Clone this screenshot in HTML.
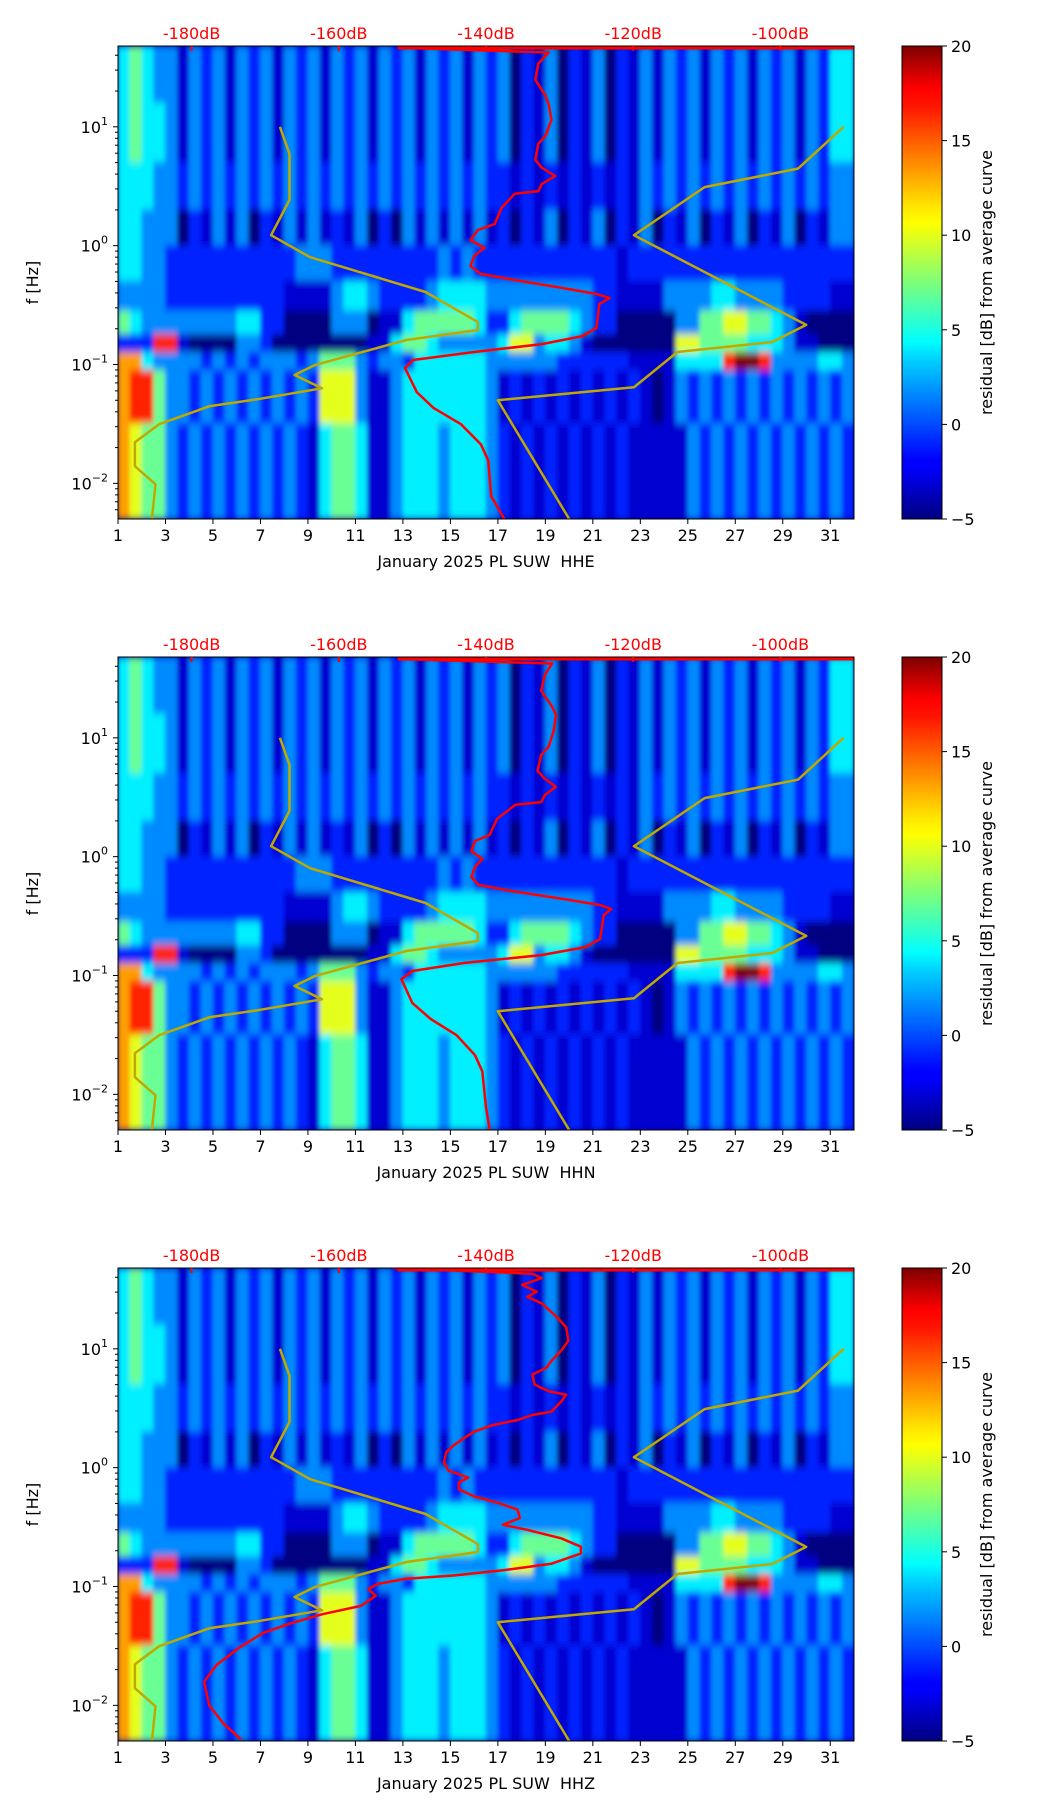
<!DOCTYPE html>
<html><head><meta charset="utf-8">
<style>
html,body{margin:0;padding:0;background:#fff;}
svg{display:block;font-family:"DejaVu Sans","Liberation Sans",sans-serif;}
</style></head>
<body>
<svg id="fig" width="1052" height="1806" viewBox="0 0 1052 1806" xmlns="http://www.w3.org/2000/svg">
<defs>
<linearGradient id="jet" x1="0" y1="1" x2="0" y2="0">
<stop offset="0" stop-color="#00007f"/><stop offset="0.11" stop-color="#0000ff"/><stop offset="0.125" stop-color="#0000ff"/>
<stop offset="0.34" stop-color="#00d4ff"/><stop offset="0.375" stop-color="#00ffff"/><stop offset="0.5" stop-color="#7dff7a"/>
<stop offset="0.625" stop-color="#ffff00"/><stop offset="0.66" stop-color="#ffe600"/><stop offset="0.875" stop-color="#ff1300"/>
<stop offset="0.91" stop-color="#ff0000"/><stop offset="1" stop-color="#7f0000"/>
</linearGradient>
<filter id="soft" x="-5%" y="-5%" width="110%" height="110%"><feGaussianBlur stdDeviation="2 4"/></filter>
</defs>
</svg>
<script>
// ---- data ----
const days = [1,3,5,7,9,11,13,15,17,19,21,23,25,27,29,31];
const yDecades = [-2,-1,0,1];
const dbTicks = [-180,-160,-140,-120,-100];
const cbTicks = [-5,0,5,10,15,20];
const channels = ["HHE","HHN","HHZ"];
const levelValues = [-5,-3,-1,1.5,4,7,10,13,16,20];
const bandEdges = [1.68,1.2,0.7,0.3,0.0,-0.3,-0.55,-0.75,-0.9,-1.05,-1.5,-2.3];
const gridRows = [
"45433132313231323132313231323132302130213021313231323132313244",
"45443132313231323132313231323132302130213021313231323132313244",
"44433232323232323232323232323232212121212121323232323232323233",
"44333021313021313121302031313131202130213021302130213021302133",
"44332222222222233322222222232322222222222212222222222222222222",
"33332222222222111134432222344443333333332211113333443333222211",
"54333333334422000033301145555542245555432200000335566554310000",
"22288100003320000000011455433333466344310000000665555444311000",
"77433332323233323555323324444443333332222221111444489983333443",
"78853323232323232666311344444443121212121212101323232323232323",
"76553232323232321455411344434443212121212121111132323232323232"
];
const redLogf1 = [1.66,1.625,1.531,1.396,1.261,1.194,1.059,0.924,0.857,0.722,0.655,0.587,0.520,0.459,0.436,0.318,0.183,0.132,0.048,-0.019,-0.087,-0.171,-0.238,-0.289,-0.356,-0.407,-0.441,-0.491,-0.693,-0.761,-0.828,-0.895,-0.962,-1.030,-1.232,-1.367,-1.502,-1.671,-1.806,-2.109,-2.30];
const redDb1 = [-149.0,-131.5,-132.9,-133.3,-131.9,-131.5,-131.1,-131.9,-132.9,-133.3,-132.4,-130.6,-132.4,-132.9,-136.1,-137.9,-138.8,-141.1,-142.1,-140.2,-141.6,-142.1,-140.7,-136.1,-129.6,-125.0,-123.2,-124.6,-125.0,-126.9,-132.4,-141.6,-149.9,-151.0,-149.4,-147.1,-143.4,-140.7,-139.7,-139.3,-137.5];
const redLogf2 = [1.66,1.625,1.531,1.396,1.261,1.194,1.059,0.924,0.857,0.722,0.655,0.587,0.520,0.459,0.436,0.318,0.183,0.132,0.048,-0.019,-0.087,-0.171,-0.238,-0.289,-0.356,-0.407,-0.441,-0.491,-0.693,-0.761,-0.828,-0.895,-0.962,-1.030,-1.232,-1.367,-1.502,-1.671,-1.806,-2.109,-2.30];
const redDb2 = [-150.0,-131.0,-132.0,-132.5,-131.0,-130.5,-130.8,-131.5,-132.5,-133.0,-132.0,-130.5,-132.0,-132.5,-136.0,-138.5,-139.5,-141.5,-142.0,-140.5,-141.5,-142.0,-141.0,-136.5,-129.5,-124.5,-123.0,-124.0,-124.5,-126.5,-132.5,-143.0,-150.0,-151.5,-150.0,-147.5,-144.0,-141.5,-140.5,-140.0,-139.5];
const redLogf3 = [1.68,1.632,1.595,1.538,1.481,1.438,1.381,1.325,1.268,1.182,1.069,0.983,0.898,0.841,0.784,0.699,0.642,0.614,0.557,0.472,0.443,0.401,0.358,0.301,0.244,0.187,0.131,0.045,-0.026,-0.083,-0.125,-0.182,-0.239,-0.296,-0.353,-0.424,-0.481,-0.523,-0.594,-0.665,-0.722,-0.808,-0.864,-0.907,-0.936,-0.978,-1.021,-1.078,-1.163,-1.234,-1.305,-1.390,-1.518,-1.660,-1.803,-2.002,-2.158,-2.286];
const redDb3 = [-152.7,-133.7,-132.4,-135.1,-133.1,-134.4,-132.4,-131.4,-130.4,-129.1,-128.8,-129.8,-131.1,-131.8,-133.7,-133.4,-131.4,-129.1,-129.8,-131.1,-133.7,-135.7,-139.1,-141.7,-143.1,-144.4,-145.4,-145.7,-145.1,-142.4,-143.7,-143.7,-141.7,-138.4,-135.7,-135.4,-137.7,-134.4,-129.8,-127.1,-127.1,-131.1,-137.7,-144.4,-151.0,-154.7,-156.0,-155.0,-157.0,-162.3,-166.3,-170.3,-173.6,-176.6,-178.3,-177.6,-175.6,-173.3];
const nlnmLogf = [1.0,0.773,0.385,0.088,-0.097,-0.39,-0.643,-0.71,-0.794,-1.003,-1.088,-1.2,-1.293,-1.35,-1.502,-1.654,-1.856,-2.008,-2.30];
const nlnmDb = [-168.0,-166.7,-166.7,-169.2,-163.9,-148.2,-141.1,-141.1,-150.8,-163.2,-166.0,-162.3,-171.1,-177.5,-184.4,-187.7,-187.7,-184.9,-185.4];
const nhnmLogf = [1.0,0.648,0.493,0.088,-0.667,-0.811,-0.895,-1.192,-1.30,-2.30];
const nhnmDb = [-91.4,-97.6,-110.3,-119.9,-96.5,-101.1,-114.0,-119.9,-138.4,-128.7];

// ---- layout ----
const NS = "http://www.w3.org/2000/svg";
const svg = document.getElementById("fig");
const L = 118, R = 854, H = 473, TOPS = [46, 657, 1268];
const DMIN = 1, DMAX = 32, FMAX = 1.68, FMIN = -2.3, DBMIN = -190, DBMAX = -90;
const CBX = 902, CBW = 40;
function xDay(d){ return L + (d - DMIN) / (DMAX - DMIN) * (R - L); }
function xDb(db){ return L + (db - DBMIN) / (DBMAX - DBMIN) * (R - L); }
function yF(T, lf){ return T + (FMAX - lf) / (FMAX - FMIN) * H; }
function jet(v){
  const t = Math.max(0, Math.min(1, (v + 5) / 25));
  const r = Math.max(0, Math.min(1, 1.5 - Math.abs(4*t - 3)));
  const g = Math.max(0, Math.min(1, 1.5 - Math.abs(4*t - 2)));
  const b = Math.max(0, Math.min(1, 1.5 - Math.abs(4*t - 1)));
  return `rgb(${Math.round(r*255)},${Math.round(g*255)},${Math.round(b*255)})`;
}
function mk(tag, attrs, parent){
  const e = document.createElementNS(NS, tag);
  for (const k in attrs) e.setAttribute(k, attrs[k]);
  (parent || svg).appendChild(e);
  return e;
}
function poly(T, lfs, dbs){
  return lfs.map((lf, i) => xDb(dbs[i]).toFixed(1) + "," + yF(T, lf).toFixed(1)).join(" ");
}
const reds = [[redLogf1, redDb1], [redLogf2, redDb2], [redLogf3, redDb3]];

TOPS.forEach((T, p) => {
  const g = mk("g", {});
  
  
  const cp = mk("clipPath", {id: "clip" + p}, g);
  mk("rect", {x: L, y: T, width: R - L, height: H}, cp);
  const bg = mk("rect", {x: L, y: T, width: R - L, height: H, fill: "#0000a0"}, g);
  
  
  const hm = mk("g", {"clip-path": `url(#clip${p})`}, g);
  
  
  const inner = mk("g", {filter: "url(#soft)"}, hm);
  const nCols = gridRows[0].length, step = (DMAX - DMIN) / nCols;
  gridRows.forEach((row, r) => {
    const y0 = yF(T, bandEdges[r]), y1 = yF(T, bandEdges[r + 1]);
    for (let c = 0; c < nCols; c++) {
      const v = levelValues[+row[c]];
      const x0 = xDay(DMIN + c * step), x1 = xDay(DMIN + (c + 1) * step);
      const cell = mk("rect", {x: x0 - 0.3, y: y0 - 0.5, width: x1 - x0 + 0.6, height: y1 - y0 + 1, fill: jet(v)}, inner);
      
      
    }
  });
  // curves
  const cg = mk("g", {"clip-path": `url(#clip${p})`}, g);
  const topLine = mk("line", {x1: xDb(-152), y1: T + 2, x2: R, y2: T + 2, stroke: "#ff0000", "stroke-width": 3}, cg);
  
  
  const nl = mk("polyline", {points: poly(T, nlnmLogf, nlnmDb), fill: "none", stroke: "#bfa800", "stroke-width": 2.5, "stroke-linejoin": "round"}, cg);
  
  
  const nh = mk("polyline", {points: poly(T, nhnmLogf, nhnmDb), fill: "none", stroke: "#bfa800", "stroke-width": 2.5, "stroke-linejoin": "round"}, cg);
  
  
  const rd = mk("polyline", {points: poly(T, reds[p][0], reds[p][1]), fill: "none", stroke: "#ff0000", "stroke-width": 2.5, "stroke-linejoin": "round"}, cg);
  
  
  // frame
  const fr = mk("rect", {x: L, y: T, width: R - L, height: H, fill: "none", stroke: "#000", "stroke-width": 1}, g);
  
  
  // x ticks
  days.forEach(d => {
    const x = xDay(d);
    mk("line", {x1: x, y1: T + H, x2: x, y2: T + H + 5, stroke: "#000"}, g);
    const t = mk("text", {x: x, y: T + H + 22, "text-anchor": "middle", "font-size": 16}, g);
    t.textContent = d;
    
    
  });
  const xt = mk("text", {x: (L + R) / 2, y: T + H + 48, "text-anchor": "middle", "font-size": 16, "xml:space": "preserve", style: "white-space:pre"}, g);
  xt.textContent = "January 2025 PL SUW  " + channels[p];
  
  
  // y ticks
  for (let dec = -3; dec <= 1; dec++) {
    for (let m = 1; m <= 9; m++) {
      const lf = dec + Math.log10(m);
      if (lf < FMIN || lf > FMAX) continue;
      const y = yF(T, lf);
      mk("line", {x1: L - (m === 1 ? 5 : 3), y1: y, x2: L, y2: y, stroke: "#000"}, g);
    }
  }
  yDecades.forEach(dec => {
    const y = yF(T, dec);
    const t = mk("text", {x: L - 10, y: y + 6, "text-anchor": "end", "font-size": 16}, g);
    
    
    const a = mk("tspan", {}, t); a.textContent = "10";
    const b = mk("tspan", {dy: -8, "font-size": 11}, t); b.textContent = dec < 0 ? "\u2212" + (-dec) : dec;
  });
  const yt = mk("text", {x: 38, y: T + H / 2, "text-anchor": "middle", "font-size": 16, transform: `rotate(-90 38 ${T + H / 2})`}, g);
  yt.textContent = "f [Hz]";
  
  
  // top dB axis
  dbTicks.forEach(db => {
    const x = xDb(db);
    mk("line", {x1: x, y1: T, x2: x, y2: T + 5, stroke: "#ff0000", "stroke-width": 2}, g);
    const t = mk("text", {x: x, y: T - 7, "text-anchor": "middle", "font-size": 16, fill: "#ff0000"}, g);
    t.textContent = db + "dB";
    
    
  });
  // colorbar
  const cb = mk("rect", {x: CBX, y: T, width: CBW, height: H, fill: "url(#jet)", stroke: "#000", "stroke-width": 1}, g);
  
  
  cbTicks.forEach(v => {
    const y = T + H - (v + 5) / 25 * H;
    mk("line", {x1: CBX + CBW, y1: y, x2: CBX + CBW + 5, y2: y, stroke: "#000"}, g);
    const t = mk("text", {x: CBX + CBW + 9, y: y + 6, "font-size": 16}, g);
    t.textContent = v < 0 ? "\u2212" + (-v) : v;
    
    
  });
  const cx = 992, cy = T + H / 2;
  const ct = mk("text", {x: cx, y: cy, "text-anchor": "middle", "font-size": 16, transform: `rotate(-90 ${cx} ${cy})`}, g);
  ct.textContent = "residual [dB] from average curve";
  
  
});
</script>
</body></html>
